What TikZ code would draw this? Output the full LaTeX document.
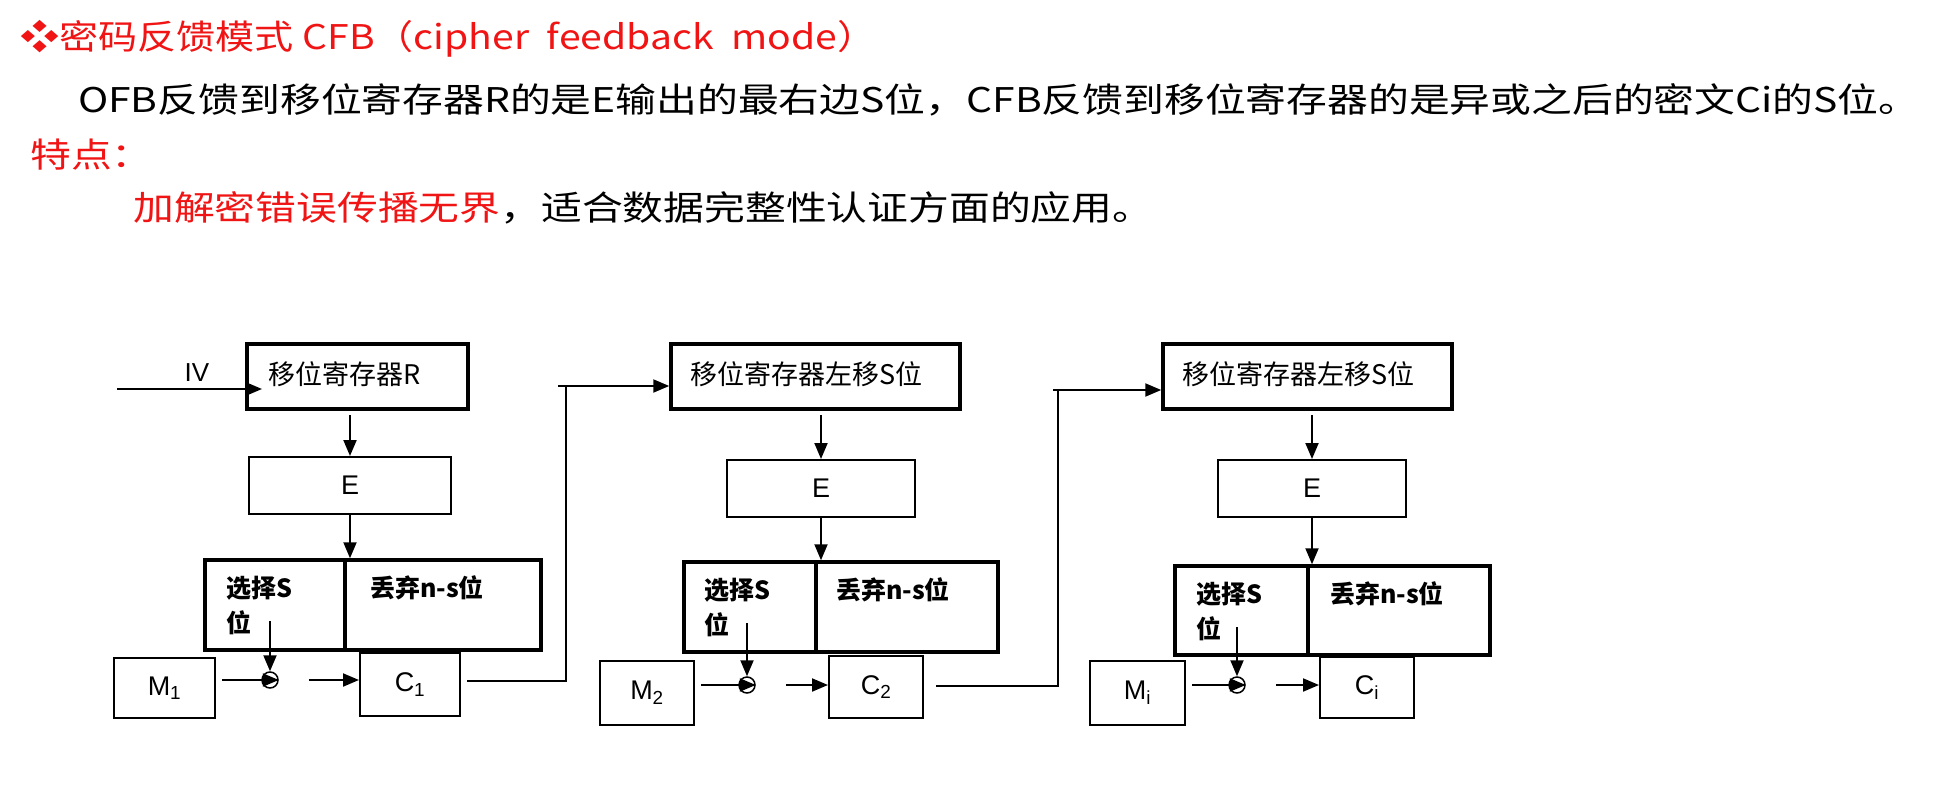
\documentclass[tikz,border=0pt]{standalone}
\usepackage{fontspec}
\setmainfont{Liberation Sans}
\newfontfamily\cjk{Noto Sans CJK SC}
\usetikzlibrary{arrows.meta}
\definecolor{hred}{RGB}{240,20,20}
\begin{document}
\begin{tikzpicture}[x=1pt,y=-1pt,
  box/.style={draw,line width=2pt,inner sep=0pt},
  tbox/.style={draw,line width=3.5pt,inner sep=0pt},
  lab/.style={font=\fontsize{27}{29}\selectfont\cjk,inner sep=0pt},
  blab/.style={font=\fontsize{25}{28}\selectfont\cjk\bfseries,inner sep=0pt},
  arr/.style={line width=2pt,-{Triangle[length=16pt,width=13pt]}},
  ln/.style={line width=2pt},
  head/.style={inner sep=0pt,anchor=base west}]
\useasboundingbox (0,0) rectangle (1956,800);
% header
\node[head,text=hred,font=\fontsize{34}{36}\selectfont\cjk] (h1) at (20,50) {\scalebox{1.15}[1]{❖密码反馈模式 CFB（cipher\ \ feedback\ \ mode）}};
\node[head,font=\fontsize{34}{36}\selectfont\cjk] (h2) at (78,112) {\scalebox{1.2}[1]{OFB反馈到移位寄存器R的是E输出的最右边S位，CFB反馈到移位寄存器的是异或之后的密文Ci的S位。}};
\node[head,text=hred,font=\fontsize{34}{36}\selectfont\cjk] (h3) at (30,167) {\scalebox{1.2}[1]{特点：}};
\node[head,font=\fontsize{34}{36}\selectfont\cjk] (h4) at (133,220) {\scalebox{1.2}[1]{\textcolor{hred}{加解密错误传播无界}，适合数据完整性认证方面的应用。}};
% block 1
\node[tbox,minimum width=221,minimum height=65] (R1) at (357.5,376.5) {};
\node[lab,anchor=west] at (268,374) {移位寄存器R};
\node[box,minimum width=202,minimum height=57] (E1) at (350,485.5) {\fontsize{27}{29}\selectfont E};
\node[tbox,minimum width=140,minimum height=90] (S1) at (275,605) {};
\node[tbox,minimum width=196,minimum height=90] (D1) at (443,605) {};
\node[box,minimum width=101,minimum height=60] (M1) at (164.5,688) {\fontsize{27}{29}\selectfont M\textsubscript{1}};
\node[draw,circle,line width=1.5pt,minimum size=16,inner sep=0pt] (X1) at (270,680) {};
\node[box,minimum width=100,minimum height=63] (C1) at (410,684.5) {\fontsize{27}{29}\selectfont C\textsubscript{1}};
% block 2
\node[tbox,minimum width=289,minimum height=65] (R2) at (815.5,376.5) {};
\node[lab,anchor=west] at (690,374) {移位寄存器左移S位};
\node[box,minimum width=188,minimum height=57] (E2) at (821,488.5) {\fontsize{27}{29}\selectfont E};
\node[tbox,minimum width=132,minimum height=90] (S2) at (750,607) {};
\node[tbox,minimum width=182,minimum height=90] (D2) at (907,607) {};
\node[box,minimum width=94,minimum height=64] (M2) at (647,693) {\fontsize{27}{29}\selectfont M\textsubscript{2}};
\node[draw,circle,line width=1.5pt,minimum size=16,inner sep=0pt] (X2) at (747,685) {};
\node[box,minimum width=94,minimum height=62] (C2) at (876,687) {\fontsize{27}{29}\selectfont C\textsubscript{2}};
% block 3
\node[tbox,minimum width=289,minimum height=65] (R3) at (1307.5,376.5) {};
\node[lab,anchor=west] at (1182,374) {移位寄存器左移S位};
\node[box,minimum width=188,minimum height=57] (E3) at (1312,488.5) {\fontsize{27}{29}\selectfont E};
\node[tbox,minimum width=133,minimum height=89] (S3) at (1241.5,610.5) {};
\node[tbox,minimum width=182,minimum height=89] (D3) at (1399,610.5) {};
\node[box,minimum width=95,minimum height=64] (M3) at (1137.5,693) {\fontsize{27}{29}\selectfont M\textsubscript{i}};
\node[draw,circle,line width=1.5pt,minimum size=16,inner sep=0pt] (X3) at (1237,685) {};
\node[box,minimum width=94,minimum height=61] (C3) at (1367,687.5) {\fontsize{27}{29}\selectfont C\textsubscript{i}};
% labels in select/discard
\foreach \i/\a/\b in {1/226/370, 2/704/836, 3/1196/1330}{
  \node[blab,anchor=west] at ([yshift=-30]\a,0 |- S\i.north) {选择S};
  \node[blab,anchor=west] at ([yshift=-64]\a,0 |- S\i.north) {位};
  \node[blab,anchor=west] at ([yshift=-30]\b,0 |- S\i.north) {丢弃n-s位};
}
% IV
\coordinate (iv) at (117,389);
\node[font=\fontsize{26}{28}\selectfont\rmfamily] (ivl) at (197,373) {IV};
\draw[arr] (iv) -- (262,389);
% connectors in blocks
\foreach \i in {1,2,3}{
  \draw[arr] ([yshift=-4]R\i.south -| E\i.north) -- (E\i.north);
  \draw[arr] (E\i.south) -- (E\i.south |- S\i.north);
  \draw[arr] ([yshift=-63]X\i.north |- S\i.north) -- (X\i.north);
  \draw[arr] ([xshift=6]M\i.east |- X\i) -- (X\i.east);
  \draw[arr] ([xshift=30]X\i.east) -- (C\i.west |- X\i);
}
% feedback
\coordinate (f1) at (566,681);
\coordinate (f1t) at (566,386);
\draw[ln] ([xshift=6]C1.east |- f1) -- (f1) -- (f1t);
\draw[arr] ([xshift=-8]f1t) -- (R2.west |- f1t);
\coordinate (f2) at (1058,686);
\coordinate (f2t) at (1058,390);
\draw[ln] ([xshift=12]C2.east |- f2) -- (f2) -- (f2t);
\draw[arr] ([xshift=-5]f2t) -- (R3.west |- f2t);
\end{tikzpicture}
\end{document}
